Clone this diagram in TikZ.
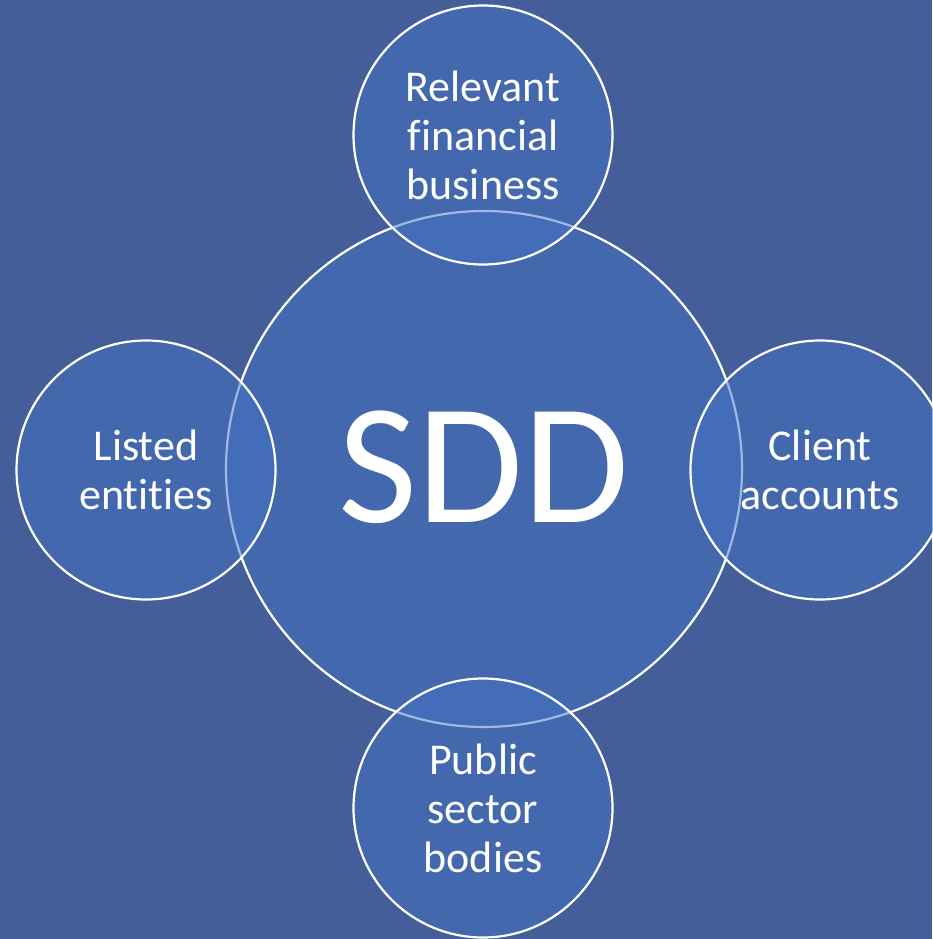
\documentclass[tikz,border=0pt]{standalone}
\usepackage{fontspec}
\setmainfont[Ligatures={NoCommon},RawFeature={-liga;-dlig}]{Carlito}
\definecolor{bgblue}{RGB}{67,94,153}
\definecolor{fillblue}{RGB}{68,114,196}
\begin{document}
\begin{tikzpicture}[x=1pt,y=-1pt,
  bubble/.style={circle,draw=white,line width=2.2pt,fill=fillblue,fill opacity=0.5,text opacity=1,inner sep=0pt,align=center,text=white},
  small/.style={bubble,minimum size=259pt,font=\fontsize{44}{49}\selectfont}]
\fill[bgblue] (0,0) rectangle (932,939);
\useasboundingbox (0,0) rectangle (932,939);
\node[bubble,minimum size=516pt] (sdd) at (484,469) {};
\node[text=white,font=\fontsize{172}{172}\selectfont] (sddlabel) at (484,467) {SDD};
\node[small] (top) at (483,135) {Relevant\\financial\\business};
\node[small] (left) at (146,470) {Listed\\entities};
\node[small] (right) at (820,470) {Client\\accounts};
\node[small] (bottom) at (483,808) {Public\\sector\\bodies};
\end{tikzpicture}
\end{document}
